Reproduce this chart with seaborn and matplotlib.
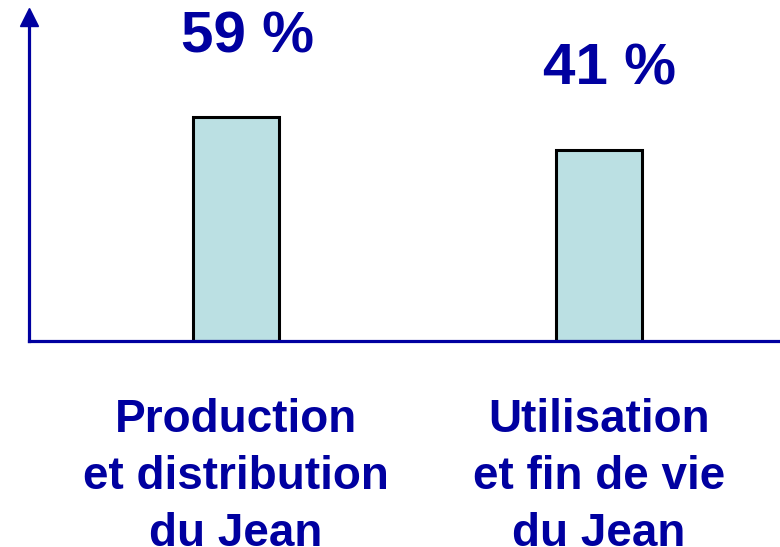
import numpy as np
import pandas as pd
import matplotlib

matplotlib.use("Agg")
import matplotlib.pyplot as plt
import seaborn as sns

# Data
categories = ["Production\net distribution\ndu Jean", "Utilisation\net fin de vie\ndu Jean"]
shares = [59, 41]  # printed labels, in %
bar_heights = [69, 59]  # drawn heights (axis has no scale)

blue = "#0000A0"
bar_fill = "#BBE0E3"

sns.set_style("white")
plt.rcParams["font.family"] = ["Liberation Sans", "DejaVu Sans"]

df = pd.DataFrame({"cat": categories, "height": bar_heights, "share": shares})

fig = plt.figure(figsize=(7.8, 5.47), dpi=100)
ax = fig.add_axes([29 / 780, 206 / 547, 751 / 780, 324 / 547])

sns.barplot(
    data=df,
    x="cat",
    y="height",
    color=bar_fill,
    saturation=1,
    width=0.237,
    edgecolor="black",
    linewidth=2.2,
    ax=ax,
)

ax.set_xlim(-0.570, 1.499)
ax.set_ylim(0, 100)
ax.set_xlabel("")
ax.set_ylabel("")
ax.set_yticks([])

# Axes with an arrow on the vertical one
for side in ["top", "right"]:
    ax.spines[side].set_visible(False)
for side in ["left", "bottom"]:
    ax.spines[side].set_color(blue)
    ax.spines[side].set_linewidth(2.3)
ax.plot(0, 1, marker="^", markersize=13, color=blue, transform=ax.transAxes, clip_on=False)

# Category labels
ax.tick_params(axis="x", length=0, pad=41)
for lbl in ax.get_xticklabels():
    lbl.set_fontsize(33)
    lbl.set_fontweight("bold")
    lbl.set_color(blue)
    lbl.set_linespacing(1.38)

# Percent labels above bars
for i, row in df.iterrows():
    ax.annotate(
        f"{row['share']} %",
        xy=(i, row["height"]),
        xytext=(8, 47),
        textcoords="offset points",
        ha="center",
        va="baseline",
        fontsize=42,
        fontweight="bold",
        color=blue,
        annotation_clip=False,
    )

fig.savefig("out.png", dpi=100)
